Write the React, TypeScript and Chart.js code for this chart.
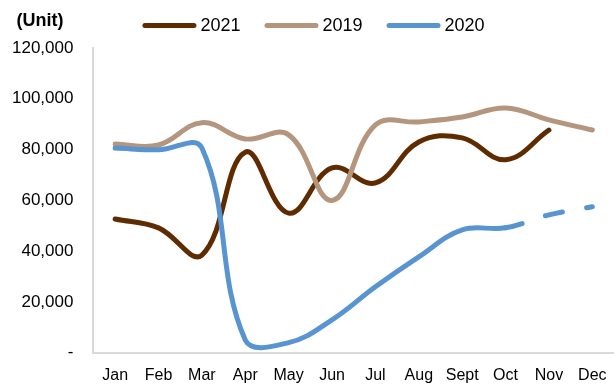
import React, { useEffect, useRef } from "react";
import { Chart, registerables } from "chart.js";

Chart.register(...registerables);

const months = ["Jan", "Feb", "Mar", "Apr", "May", "Jun", "Jul", "Aug", "Sept", "Oct", "Nov", "Dec"];
const series2021 = [52700, 49200, 38500, 79000, 55000, 72800, 66900, 83000, 84600, 76000, 87700, null];
const series2019 = [82200, 81800, 90600, 84200, 85800, 60000, 89700, 90900, 92800, 96400, 91700, 87700];
const series2020 = [80600, 79900, 80600, 5000, 4000, 13000, 26000, 37800, 48400, 49200, 54300, 57500];
const yTicksMax = 120000;
const yTickStep = 20000;
const dashedFromIndex = 9;
const unitLabel = "(Unit)";

const FONT = "'Liberation Sans', Arial, sans-serif";

export default function App() {
  const ref = useRef<HTMLCanvasElement | null>(null);

  useEffect(() => {
    document.body.style.margin = "0";
    const canvas = ref.current;
    if (!canvas) return;

    const headerPlugin = {
      id: "header",
      afterDraw(chart: any) {
        const ctx = chart.ctx;
        ctx.save();
        // unit label
        ctx.font = `bold 18px ${FONT}`;
        ctx.fillStyle = "#000";
        ctx.textAlign = "center";
        ctx.textBaseline = "middle";
        ctx.fillText(unitLabel, 40, 21);

        // legend
        ctx.font = `18px ${FONT}`;
        const lineW = 54;
        const gapText = 4;
        const gapItem = 24;
        const items = chart.data.datasets.map((d: any) => ({
          label: d.label,
          color: d.borderColor,
          w: ctx.measureText(d.label).width,
        }));
        const total =
          items.reduce((s: number, it: any) => s + lineW + gapText + it.w, 0) + gapItem * (items.length - 1);
        let x = chart.width / 2 - total / 2 + 6.5;
        const yc = 25.5;
        items.forEach((it: any) => {
          ctx.strokeStyle = it.color;
          ctx.lineWidth = 5;
          ctx.lineCap = "round";
          ctx.beginPath();
          ctx.moveTo(x + 2.5, yc);
          ctx.lineTo(x + lineW - 2.5, yc);
          ctx.stroke();
          ctx.fillStyle = "#000";
          ctx.textAlign = "left";
          ctx.textBaseline = "middle";
          ctx.fillText(it.label, x + lineW + gapText, yc + 1);
          x += lineW + gapText + it.w + gapItem;
        });
        ctx.restore();
      },
    };

    const chart = new Chart(canvas, {
      type: "line",
      data: {
        labels: months,
        datasets: [
          {
            label: "2021",
            data: series2021,
            borderColor: "#5f2b00",
            backgroundColor: "#5f2b00",
            borderWidth: 5,
            order: 2,
          },
          {
            label: "2019",
            data: series2019,
            borderColor: "#b4957e",
            backgroundColor: "#b4957e",
            borderWidth: 5,
            order: 1,
          },
          {
            label: "2020",
            data: series2020,
            borderColor: "#5894d0",
            backgroundColor: "#5894d0",
            borderWidth: 5,
            order: 0,
            segment: {
              borderDash: (c: any) => (c.p0DataIndex >= dashedFromIndex ? [17, 25] : undefined),
            },
          },
        ],
      },
      options: {
        responsive: false,
        animation: false,
        layout: { padding: { top: 48, right: 0, left: 12, bottom: 0 } },
        elements: {
          line: { tension: 0.4, borderCapStyle: "round", borderJoinStyle: "round" },
          point: { radius: 0, hoverRadius: 0 },
        },
        plugins: {
          tooltip: { enabled: false },
          legend: { display: false },
        },
        scales: {
          x: {
            offset: true,
            grid: { display: false, drawTicks: true, tickLength: 13 },
            border: { display: true, color: "#d9d9d9", width: 2 },
            ticks: {
              color: "#000",
              font: { family: FONT, size: 16 },
              padding: 0,
              maxRotation: 0,
              autoSkip: false,
            },
          },
          y: {
            min: 0,
            max: yTicksMax,
            grid: { display: false, drawTicks: true, tickLength: 20 },
            border: { display: true, color: "#d9d9d9", width: 2 },
            ticks: {
              stepSize: yTickStep,
              color: "#000",
              font: { family: FONT, size: 17 },
              padding: 0,
              callback: (v: any) => (Number(v) === 0 ? "-" : Number(v).toLocaleString("en-US")),
            },
          },
        },
      },
      plugins: [headerPlugin],
    });

    return () => chart.destroy();
  }, []);

  return (
    <div style={{ width: 614, height: 385 }}>
      <canvas ref={ref} width={614} height={385} style={{ display: "block" }} />
    </div>
  );
}
